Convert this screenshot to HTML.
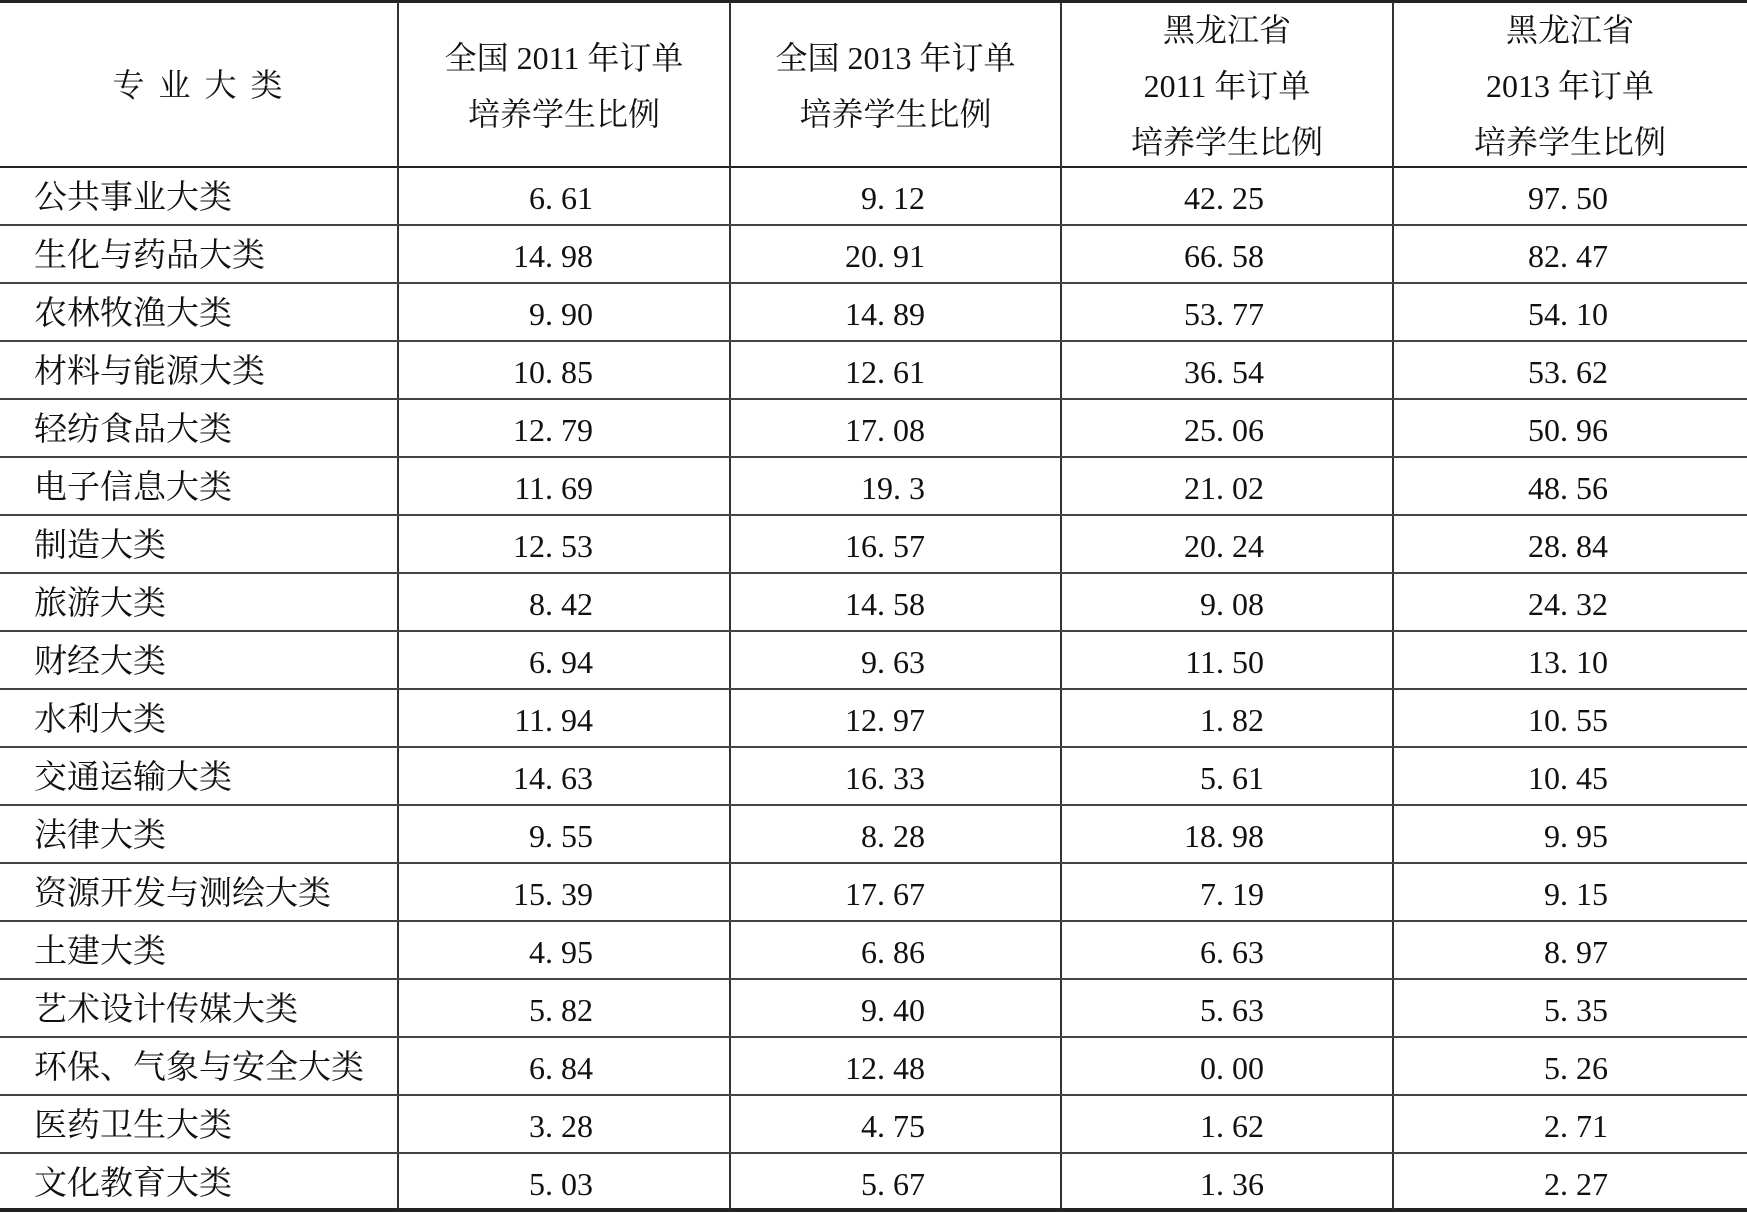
<!DOCTYPE html>
<html><head><meta charset="utf-8"><style>
html,body{margin:0;padding:0;background:#fff;}
body{width:1747px;height:1213px;position:relative;overflow:hidden;font-family:"Liberation Serif","Noto Serif CJK SC",serif;color:#111;}
.h{position:absolute;left:0;width:1747px;background:#222;}
.v{position:absolute;width:2px;background:#333;top:2px;height:1207px;}
.t{position:absolute;font-size:33px;line-height:58px;white-space:nowrap;}
.n{font-size:32px;}
.c{position:absolute;font-size:32px;line-height:56px;text-align:center;white-space:nowrap;}
</style></head><body>
<div class="h" style="top:0;height:3px"></div>
<div class="h" style="top:166px;height:2px"></div>
<div class="h" style="top:1208px;height:4px"></div>
<div class="v" style="left:397px"></div>
<div class="v" style="left:729px"></div>
<div class="v" style="left:1060px"></div>
<div class="v" style="left:1392px"></div>
<div class="c" style="left:0;width:398px;top:57px;letter-spacing:3px">专 业 大 类</div>
<div class="c" style="left:398px;width:332px;top:30px">全国 2011 年订单<br>培养学生比例</div>
<div class="c" style="left:730px;width:331px;top:30px">全国 2013 年订单<br>培养学生比例</div>
<div class="c" style="left:1061px;width:332px;top:2px">黑龙江省<br>2011 年订单<br>培养学生比例</div>
<div class="c" style="left:1393px;width:354px;top:2px">黑龙江省<br>2013 年订单<br>培养学生比例</div>
<div id="rows"></div>
<script>
var d=[["公共事业大类","6. 61","9. 12","42. 25","97. 50"],["生化与药品大类","14. 98","20. 91","66. 58","82. 47"],["农林牧渔大类","9. 90","14. 89","53. 77","54. 10"],["材料与能源大类","10. 85","12. 61","36. 54","53. 62"],["轻纺食品大类","12. 79","17. 08","25. 06","50. 96"],["电子信息大类","11. 69","19. 3","21. 02","48. 56"],["制造大类","12. 53","16. 57","20. 24","28. 84"],["旅游大类","8. 42","14. 58","9. 08","24. 32"],["财经大类","6. 94","9. 63","11. 50","13. 10"],["水利大类","11. 94","12. 97","1. 82","10. 55"],["交通运输大类","14. 63","16. 33","5. 61","10. 45"],["法律大类","9. 55","8. 28","18. 98","9. 95"],["资源开发与测绘大类","15. 39","17. 67","7. 19","9. 15"],["土建大类","4. 95","6. 86","6. 63","8. 97"],["艺术设计传媒大类","5. 82","9. 40","5. 63","5. 35"],["环保、气象与安全大类","6. 84","12. 48","0. 00","5. 26"],["医药卫生大类","3. 28","4. 75","1. 62","2. 71"],["文化教育大类","5. 03","5. 67","1. 36","2. 27"]];
var rights=[1747-593,1747-925,1747-1264,1747-1608];
var h="";
d.forEach(function(r,i){var top=167+i*58;
 if(i>0)h+='<div class="h" style="top:'+(top-1)+'px;height:2px;background:#444"></div>';
 h+='<div class="t" style="left:34px;top:'+(top+2)+'px">'+r[0]+'</div>';
 for(var j=0;j<4;j++)h+='<div class="t n" style="right:'+rights[j]+'px;top:'+(top+2)+'px">'+r[j+1]+'</div>';
});
document.getElementById("rows").innerHTML=h;
</script>
</body></html>
